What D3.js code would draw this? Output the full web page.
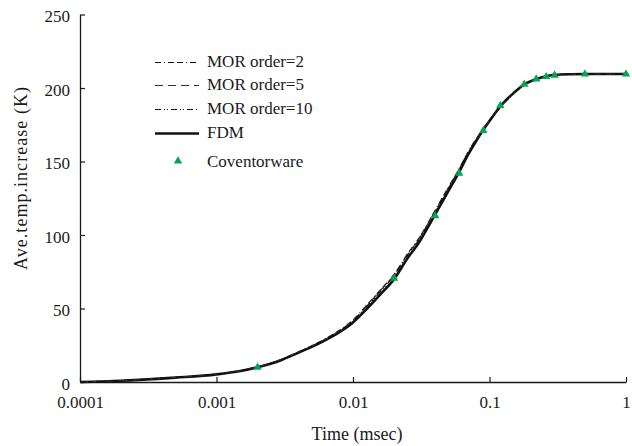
<!DOCTYPE html>
<html>
<head>
<meta charset="utf-8">
<script src="https://cdn.jsdelivr.net/npm/d3@7"></script>
<style>
  html, body { margin: 0; padding: 0; background: #fff; }
  svg { display: block; }
  text { font-family: "Liberation Serif", "Times New Roman", "DejaVu Serif", serif; fill: #1a1a1a; }
</style>
</head>
<body>
<svg id="chart" width="632" height="446"></svg>
<script>
// Time samples (msec) shared by the simulated curves
const times = [0.0001, 0.0002, 0.0005, 0.001, 0.0015, 0.002, 0.003, 0.004, 0.006, 0.008,
               0.01, 0.013, 0.016, 0.02, 0.025, 0.03, 0.04, 0.05, 0.06, 0.07, 0.08, 0.09,
               0.1, 0.12, 0.15, 0.18, 0.22, 0.26, 0.3, 0.4, 0.5, 0.7, 1];

// Average temperature increase (K)
const fdm   = [0, 0.9, 3, 5.2, 7.5, 10, 15, 20, 27.5, 34,
               40.5, 51, 60, 70, 84, 94, 114, 130, 143, 155, 164, 171.5,
               177.5, 187.5, 196.5, 202.5, 206, 208, 209, 209.4, 209.5, 209.5, 209.5];
const mor2  = [0, 1.0, 3.1, 5.3, 7.7, 10.3, 15.5, 20.6, 28.4, 35.3,
               42.2, 53.6, 63, 73.2, 87, 97, 116.8, 132.5, 145.2, 156.8, 165.4, 172.4,
               178.1, 187.8, 196.6, 202.5, 206, 208, 209, 209.4, 209.5, 209.5, 209.5];
const mor5  = [0, 0.9, 3.1, 5.3, 7.6, 10.2, 15.3, 20.4, 28.2, 35,
               41.8, 53.2, 62.6, 72.8, 86.6, 96.6, 116.4, 132.1, 144.8, 156.5, 165.1, 172.2,
               178, 187.7, 196.6, 202.5, 206, 208, 209, 209.4, 209.5, 209.5, 209.5];
const mor10 = [0, 0.9, 3.0, 5.2, 7.6, 10.1, 15.2, 20.2, 28, 34.8,
               41.5, 52.6, 62, 72.3, 86.1, 96.1, 116, 131.7, 144.4, 156.2, 164.9, 172.1,
               177.9, 187.6, 196.5, 202.5, 206, 208, 209, 209.4, 209.5, 209.5, 209.5];

// Coventorware reference results
const covTimes  = [0.002, 0.02, 0.04, 0.06, 0.09, 0.12, 0.18, 0.22, 0.26, 0.3, 0.5, 1];
const covValues = [10, 70.5, 113, 142, 171, 188, 202.5, 206, 207.7, 208.6, 209.5, 209.5];

// Axis ticks
const xTicks = [0.0001, 0.001, 0.01, 0.1, 1];
const xTickLabels = ["0.0001", "0.001", "0.01", "0.1", "1"];
const yTicks = [0, 50, 100, 150, 200, 250];

const svg = d3.select("#chart");

const x = d3.scaleLog().domain([0.0001, 1]).range([80, 626]);
const y = d3.scaleLinear().domain([0, 250]).range([382, 14.5]);

// Axes: ticks point inward
const xAxis = d3.axisBottom(x)
  .tickValues(xTicks)
  .tickFormat((d, i) => xTickLabels[i])
  .tickSizeInner(-5).tickSizeOuter(0).tickPadding(14);
const yAxis = d3.axisLeft(y)
  .tickValues(yTicks)
  .tickFormat(d3.format("d"))
  .tickSizeInner(-5).tickSizeOuter(0).tickPadding(10);

const gx = svg.append("g").attr("transform", "translate(0,382)").call(xAxis);
const gy = svg.append("g").attr("transform", "translate(80,0)").call(yAxis);
[gx, gy].forEach(g => {
  g.select(".domain").attr("stroke", "#1a1a1a").attr("stroke-width", 1.3);
  g.selectAll(".tick line").attr("stroke", "#1a1a1a").attr("stroke-width", 1.2);
  g.selectAll(".tick text")
    .attr("fill", "#1a1a1a")
    .style("font-family", "'Liberation Serif', 'Times New Roman', serif")
    .style("font-size", "17px");
});
gy.selectAll(".tick text").attr("dy", "0.42em");

// Axis titles
svg.append("text")
  .attr("x", 357).attr("y", 440)
  .attr("text-anchor", "middle")
  .style("font-size", "18px")
  .text("Time (msec)");
svg.append("text")
  .attr("transform", "translate(27,178.5) rotate(-90)")
  .attr("text-anchor", "middle")
  .attr("textLength", 183)
  .attr("lengthAdjust", "spacing")
  .style("font-size", "18px")
  .text("Ave.temp.increase (K)");

const line = d3.line()
  .x(d => x(d[0]))
  .y(d => y(d[1]))
  .curve(d3.curveMonotoneX);

const series = [
  { name: "FDM", values: fdm, color: "#111", width: 2.6, dash: null },
  { name: "MOR order=2", values: mor2, color: "#111", width: 1.2, dash: "6,3,1,3,6,3" },
  { name: "MOR order=5", values: mor5, color: "#333", width: 1.2, dash: "8,5" },
  { name: "MOR order=10", values: mor10, color: "#111", width: 1.2, dash: "6,3,1,2,1,3" }
];

series.forEach(s => {
  svg.append("path")
    .datum(times.map((t, i) => [t, s.values[i]]))
    .attr("fill", "none")
    .attr("stroke", s.color)
    .attr("stroke-width", s.width)
    .attr("stroke-dasharray", s.dash)
    .attr("stroke-linejoin", "round")
    .attr("d", line);
});

// Coventorware markers
const tri = d3.symbol().type(d3.symbolTriangle).size(30);
svg.append("g").selectAll("path")
  .data(covTimes.map((t, i) => [t, covValues[i]]))
  .join("path")
  .attr("transform", d => `translate(${x(d[0])},${y(d[1])})`)
  .attr("d", tri)
  .attr("fill", "#00a651");

// Legend
const legendItems = [
  { label: "MOR order=2", dash: "6,3,1,3,6,3", color: "#111", width: 1.2, cy: 61 },
  { label: "MOR order=5", dash: "8,5", color: "#333", width: 1.2, cy: 84 },
  { label: "MOR order=10", dash: "6,3,1,2,1,3", color: "#111", width: 1.2, cy: 108 },
  { label: "FDM", dash: null, color: "#111", width: 2.6, cy: 132 },
  { label: "Coventorware", marker: true, cy: 161 }
];
const lg = svg.append("g");
legendItems.forEach(it => {
  if (it.marker) {
    lg.append("path")
      .attr("transform", `translate(178,${it.cy})`)
      .attr("d", tri)
      .attr("fill", "#00a651");
  } else {
    lg.append("line")
      .attr("x1", 155).attr("x2", 199)
      .attr("y1", it.cy + 1.5).attr("y2", it.cy + 1.5)
      .attr("stroke", it.color)
      .attr("stroke-width", it.width)
      .attr("stroke-dasharray", it.dash);
  }
  lg.append("text")
    .attr("x", 207).attr("y", it.cy)
    .attr("dy", "0.36em")
    .style("font-size", "17px")
    .text(it.label);
});
</script>
</body>
</html>
